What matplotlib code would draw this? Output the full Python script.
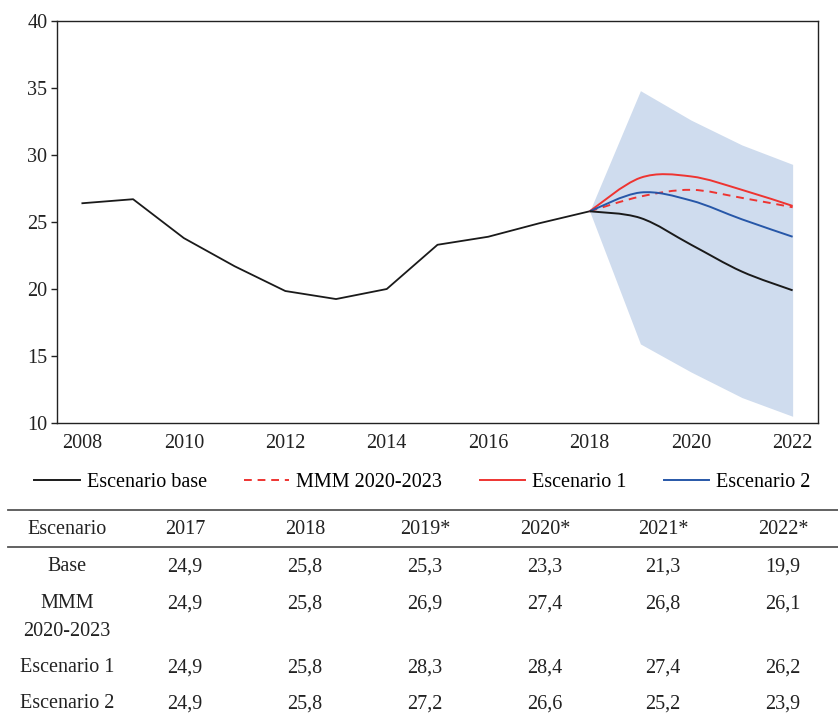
import matplotlib
matplotlib.use("Agg")
import matplotlib.pyplot as plt
from matplotlib.path import Path
from matplotlib.patches import PathPatch
from matplotlib.lines import Line2D
import numpy as np

plt.rcParams['font.family'] = ['Liberation Serif', 'DejaVu Serif']

# ---------------- data ----------------
hist_years = [2008, 2009, 2010, 2011, 2012, 2013, 2014, 2015, 2016, 2017, 2018]
hist_values = [26.4, 26.7, 23.8, 21.7, 19.85, 19.25, 20.0, 23.3, 23.9, 24.9, 25.8]

fc_years = [2018, 2019, 2020, 2021, 2022]
base_values = [25.8, 25.3, 23.3, 21.3, 19.9]
mmm_values = [25.8, 26.9, 27.4, 26.8, 26.1]
esc1_values = [25.8, 28.3, 28.4, 27.4, 26.2]
esc2_values = [25.8, 27.2, 26.6, 25.2, 23.9]
band_upper = [25.8, 34.8, 32.6, 30.75, 29.3]
band_lower = [25.8, 15.9, 13.8, 11.9, 10.5]

x_ticks = [2008, 2010, 2012, 2014, 2016, 2018, 2020, 2022]
y_ticks = [10, 15, 20, 25, 30, 35, 40]

legend_labels = ["Escenario base", "MMM 2020-2023", "Escenario 1", "Escenario 2"]

table_header = ["Escenario", "2017", "2018", "2019*", "2020*", "2021*", "2022*"]
table_row_labels = ["Base", "MMM\n2020-2023", "Escenario 1", "Escenario 2"]
table_values = [
    [24.9, 25.8, 25.3, 23.3, 21.3, 19.9],
    [24.9, 25.8, 26.9, 27.4, 26.8, 26.1],
    [24.9, 25.8, 28.3, 28.4, 27.4, 26.2],
    [24.9, 25.8, 27.2, 26.6, 25.2, 23.9],
]

# ---------------- style ----------------
BLACK = "#1a1a1a"
RED = "#ee3431"
BLUE = "#2757a8"
BAND = "#cfdcee"
FS = 14.5


def smooth_path(x, y):
    pts = np.column_stack([x, y]).astype(float)
    n = len(pts)
    verts = [pts[0]]
    codes = [Path.MOVETO]
    for i in range(n - 1):
        p_prev = pts[i - 1] if i > 0 else pts[i]
        p_next = pts[i + 2] if i + 2 < n else pts[i + 1]
        c1 = pts[i] + (pts[i + 1] - p_prev) / 6.0
        c2 = pts[i + 1] - (p_next - pts[i]) / 6.0
        verts += [c1, c2, pts[i + 1]]
        codes += [Path.CURVE4] * 3
    return Path(verts, codes)


fig = plt.figure(figsize=(8.38, 7.16), dpi=100)
W, H = 838, 716
ax = fig.add_axes([57 / W, 1 - 423 / H, (818 - 57) / W, (423 - 21) / H])

ax.fill_between(fc_years, band_lower, band_upper, color=BAND, lw=0, zorder=1)
ax.plot(hist_years, hist_values, color=BLACK, lw=1.3, zorder=3)

for vals, col, ls in [(mmm_values, RED, (0, (4, 3))),
                      (esc1_values, RED, "-"),
                      (esc2_values, BLUE, "-"),
                      (base_values, BLACK, "-")]:
    ax.add_patch(PathPatch(smooth_path(fc_years, vals), fill=False,
                           edgecolor=col, lw=1.4, linestyle=ls, zorder=3,
                           capstyle="butt"))

ax.set_xlim(2007.5, 2022.5)
ax.set_ylim(10, 40)
ax.set_xticks(x_ticks)
ax.set_yticks(y_ticks)
ax.tick_params(axis="x", length=0, pad=8, labelsize=FS, colors="#222222")
ax.tick_params(axis="y", length=4, width=1, direction="out", pad=3,
               labelsize=FS, colors="#222222")
for s in ax.spines.values():
    s.set_linewidth(1.0)
    s.set_color("#222222")

handles = [
    Line2D([], [], color=BLACK, lw=1.4),
    Line2D([], [], color=RED, lw=1.4, linestyle=(0, (4, 3))),
    Line2D([], [], color=RED, lw=1.4),
    Line2D([], [], color=BLUE, lw=1.4),
]
fig.legend(handles, legend_labels, loc="center", bbox_to_anchor=(0.504, 1 - 482 / H),
           ncol=4, frameon=False, fontsize=FS, handlelength=2.25,
           handletextpad=0.35, columnspacing=1.85)

# ---------------- table ----------------
tax = fig.add_axes([0, 0, 1, 1], facecolor="none")
tax.set_xlim(0, W)
tax.set_ylim(H, 0)
tax.axis("off")

col_x = [67, 185, 305, 425, 545, 663, 783]
header_y = 530
row_y = [567, 604, 668, 704]
tax.plot([8, W], [510, 510], color="#555555", lw=1.3)
tax.plot([8, W], [547, 547], color="#555555", lw=1.3)

for cx, h in zip(col_x, table_header):
    tax.text(cx, header_y, h, ha="center", va="center", fontsize=FS, color="#222222")

for ry, lab, vals in zip(row_y, table_row_labels, table_values):
    tax.text(col_x[0], ry - 10, lab, ha="center", va="top", fontsize=FS,
             color="#222222", linespacing=1.65)
    for cx, v in zip(col_x[1:], vals):
        tax.text(cx, ry, f"{v:.1f}".replace(".", ","), ha="center", va="center",
                 fontsize=FS, color="#222222")

fig.savefig("out.png", dpi=100)
